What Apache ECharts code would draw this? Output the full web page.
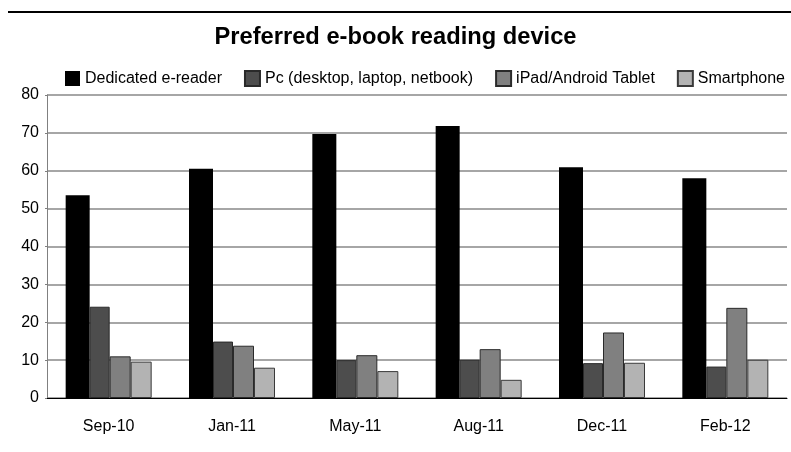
<!DOCTYPE html>
<html>
<head>
<meta charset="utf-8">
<script src="https://cdn.jsdelivr.net/npm/echarts@6/dist/echarts.min.js"></script>
<style>
  html, body { margin: 0; padding: 0; background: #fff; }
  #chart { width: 791px; height: 452px; }
</style>
</head>
<body>
<div id="chart"></div>
<script>
// Survey periods on the x axis
const periods = ['Sep-10', 'Jan-11', 'May-11', 'Aug-11', 'Dec-11', 'Feb-12'];

// Share of respondents (%) per preferred device
const dedicatedReader = [53.5, 60.5, 69.7, 71.8, 60.9, 58.0];
const pcDevices       = [24.1, 14.9, 10.0, 10.1, 9.2, 8.3];
const tablets         = [11.0, 13.8, 11.3, 12.9, 17.3, 23.8];
const smartphones     = [9.6, 8.0, 7.1, 4.8, 9.3, 10.1];

const seriesNames = [
  'Dedicated e-reader',
  'Pc (desktop, laptop, netbook)',
  'iPad/Android Tablet',
  'Smartphone'
];

const FONT = '"Liberation Sans", Arial, sans-serif';

const chart = echarts.init(document.getElementById('chart'), null, { renderer: 'canvas' });

chart.setOption({
  animation: false,
  backgroundColor: '#ffffff',
  textStyle: { fontFamily: FONT, color: '#000' },
  title: {
    text: 'Preferred e-book reading device',
    left: 'center',
    top: 20,
    textStyle: { fontFamily: FONT, fontSize: 23.7, fontWeight: 'bold', color: '#000' }
  },
  graphic: [{
    type: 'line',
    shape: { x1: 8, y1: 12, x2: 791, y2: 12 },
    style: { stroke: '#000', lineWidth: 2 }
  }],
  legend: {
    top: 70,
    left: 65,
    width: 726,
    padding: 0,
    itemWidth: 15,
    itemHeight: 15,
    itemGap: 22,
    icon: 'rect',
    textStyle: { fontFamily: FONT, fontSize: 16, color: '#000' },
    data: seriesNames
  },
  grid: { left: 47, right: 4, top: 95, bottom: 54, containLabel: false },
  xAxis: {
    type: 'category',
    data: periods,
    axisLine: { show: true, lineStyle: { color: '#000', width: 1 } },
    axisTick: { show: false },
    axisLabel: { fontFamily: FONT, fontSize: 16, color: '#000', margin: 21 }
  },
  yAxis: {
    type: 'value',
    min: 0,
    max: 80,
    interval: 10,
    axisLine: { show: true, lineStyle: { color: '#808080', width: 1 } },
    axisTick: { show: true, length: 2, lineStyle: { color: '#808080' } },
    axisLabel: { fontFamily: FONT, fontSize: 16, color: '#000', margin: 8 },
    splitLine: { show: true, lineStyle: { color: '#a6a6a6', width: 2 } }
  },
  series: [
    {
      name: seriesNames[0], type: 'bar', data: dedicatedReader,
      barWidth: 24, barGap: '0%',
      itemStyle: { color: '#000000' }
    },
    {
      name: seriesNames[1], type: 'bar', data: pcDevices,
      barWidth: 20, barGap: '0%',
      itemStyle: { color: '#4d4d4d', borderColor: '#2a2a2a', borderWidth: 1 }
    },
    {
      name: seriesNames[2], type: 'bar', data: tablets,
      barWidth: 21, barGap: '0%',
      itemStyle: { color: '#808080', borderColor: '#2a2a2a', borderWidth: 1 }
    },
    {
      name: seriesNames[3], type: 'bar', data: smartphones,
      barWidth: 21, barGap: '0%',
      itemStyle: { color: '#b3b3b3', borderColor: '#3a3a3a', borderWidth: 1 }
    }
  ]
});
</script>
</body>
</html>
